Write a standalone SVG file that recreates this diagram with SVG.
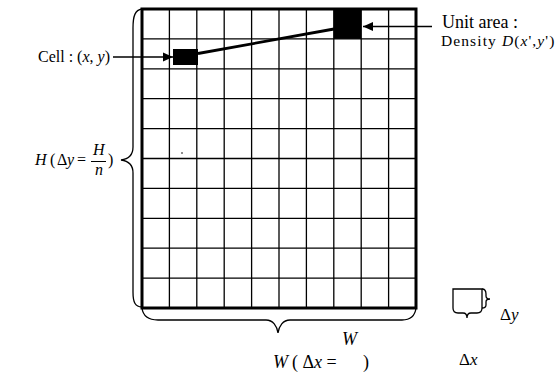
<svg xmlns="http://www.w3.org/2000/svg" width="559" height="376" viewBox="0 0 559 376">
<style>
.t{font-family:"Liberation Serif","Times New Roman",serif;fill:#000}
.i{font-style:italic}
.thin{stroke:#000;stroke-width:1.3;fill:none}
.border{stroke:#000;stroke-width:3;fill:none}
.brace{stroke:#000;stroke-width:1.3;fill:none}
</style>
<defs>
<marker id="ah" markerWidth="10" markerHeight="10" refX="10" refY="5" orient="auto" markerUnits="userSpaceOnUse">
<path d="M0,0.5 L10,5 L0,9.5 Z" fill="#000"/>
</marker>
</defs>
<g id="grid">
<g class="thin">
<line x1="169.4" y1="9" x2="169.4" y2="308"/>
<line x1="196.8" y1="9" x2="196.8" y2="308"/>
<line x1="224.2" y1="9" x2="224.2" y2="308"/>
<line x1="251.6" y1="9" x2="251.6" y2="308"/>
<line x1="279" y1="9" x2="279" y2="308"/>
<line x1="306.4" y1="9" x2="306.4" y2="308"/>
<line x1="333.8" y1="9" x2="333.8" y2="308"/>
<line x1="361.2" y1="9" x2="361.2" y2="308"/>
<line x1="388.6" y1="9" x2="388.6" y2="308"/>
<line x1="142" y1="38.9" x2="416" y2="38.9"/>
<line x1="142" y1="68.8" x2="416" y2="68.8"/>
<line x1="142" y1="98.7" x2="416" y2="98.7"/>
<line x1="142" y1="128.6" x2="416" y2="128.6"/>
<line x1="142" y1="158.5" x2="416" y2="158.5"/>
<line x1="142" y1="188.4" x2="416" y2="188.4"/>
<line x1="142" y1="218.3" x2="416" y2="218.3"/>
<line x1="142" y1="248.2" x2="416" y2="248.2"/>
<line x1="142" y1="278.1" x2="416" y2="278.1"/>
</g>
<rect class="border" x="142" y="9" width="274" height="299"/>
<circle cx="182" cy="153" r="0.8" fill="#000"/>
</g>
<g id="cell">
<rect x="173" y="49" width="25" height="16" fill="#000"/>
<text class="t" x="38" y="62" font-size="16">Cell : (<tspan class="i">x</tspan>, <tspan class="i">y</tspan>)</text>
</g>
<g id="unit-area">
<rect x="333.8" y="9" width="27.4" height="29.9" fill="#000"/>
<text class="t" x="442" y="28" font-size="18">Unit area :</text>
<text class="t" x="441" y="46" font-size="15.5" letter-spacing="1.1">Density <tspan class="i">D</tspan>(<tspan class="i">x</tspan>',<tspan class="i">y</tspan>')</text>
</g>
<g id="height-label">
<path class="brace" d="M142,9 C135,10 133,16 133,28 L133,147 C133,155 129,159 121,160 C129,161 133,165 133,173 L133,292 C133,302 135,307 142,307"/>
<text class="t" font-size="16"><tspan class="i" x="35" y="165">H</tspan><tspan x="50" y="165">(</tspan><tspan x="57" y="165">Δ</tspan><tspan class="i" x="67" y="165">y</tspan><tspan x="77" y="165">=</tspan></text>
<text class="t i" x="93" y="155" font-size="16">H</text>
<line x1="91" y1="161.5" x2="106" y2="161.5" stroke="#000" stroke-width="1"/>
<text class="t i" x="95" y="175" font-size="16">n</text>
<text class="t" x="108" y="165" font-size="16">)</text>
</g>
<g id="width-label">
<path class="brace" d="M142,308 C143,316 148,320 158,320 L266,320 C273,320 277,326 278,333 C279,326 283,320 290,320 L402,320 C411,320 415,316 416,308"/>
<text class="t" font-size="18"><tspan class="i" x="273" y="368">W</tspan><tspan x="292" y="368">( Δ</tspan><tspan class="i">x</tspan><tspan> =</tspan></text>
<text class="t i" x="342" y="345" font-size="18">W</text>
<text class="t" x="363" y="368" font-size="18">)</text>
</g>
<g id="unit-cell-legend">
<path class="thin" d="M453,308 L453,289 L482,289 L482,308"/>
<path class="brace" d="M482,289 C485,289 486,291 486,294 L486,296 C486,298 488,299 490,299 C488,299 486,300 486,302 L486,305 C486,307 485,308 482,308"/>
<path class="brace" d="M453,308 C453,311 455,313 458,313 L463,313 C466,313 467,315 467,318 C467,315 468,313 471,313 L477,313 C480,313 482,311 482,308"/>
<text class="t" x="500" y="320" font-size="17">Δ<tspan class="i">y</tspan></text>
<text class="t" x="459" y="365" font-size="17">Δ<tspan class="i">x</tspan></text>
</g>
<g id="connectors">
<line x1="113" y1="57" x2="173" y2="57" stroke="#000" stroke-width="1.3" marker-end="url(#ah)"/>
<line x1="432" y1="26.5" x2="363" y2="26.5" stroke="#000" stroke-width="1.3" marker-end="url(#ah)"/>
<line x1="198" y1="53.5" x2="334" y2="29" stroke="#000" stroke-width="2.8"/>
</g>
</svg>
